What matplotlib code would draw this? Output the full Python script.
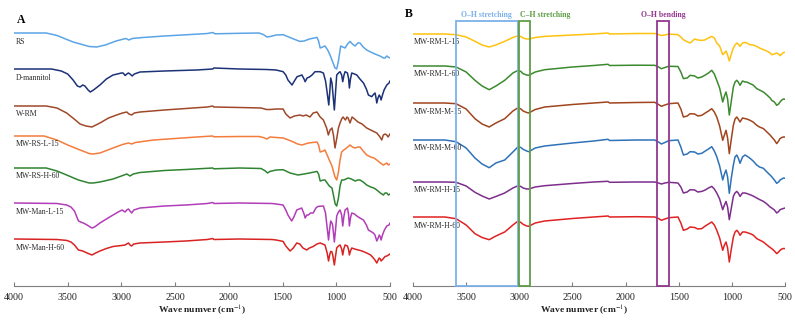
import matplotlib
matplotlib.use("Agg")
import matplotlib.pyplot as plt
from matplotlib.patches import Rectangle

plt.rcParams["font.family"] = ["Liberation Serif", "DejaVu Serif"]
plt.rcParams["mathtext.fontset"] = "stix"

# ---- data: (wavenumber cm-1, absorption depth in arbitrary units, downward) ----
rs = [(4000, 0), (3700, 0), (3600, 2.5), (3450, 9), (3300, 13.5), (3230, 14), (3150, 12), (3050, 8),
      (2960, 5.5), (2930, 7), (2900, 5.5), (2800, 4.5), (2600, 3), (2400, 1.8), (2200, 0.5), (2150, -0.5),
      (2130, 0.8), (1900, 0.3), (1720, 0), (1680, 1.5), (1645, 4), (1610, 3.4), (1560, 2), (1495, 1.7),
      (1420, 5), (1340, 8.4), (1300, 8), (1250, 6), (1180, 4.4), (1165, 8), (1150, 15), (1105, 13),
      (1080, 17), (1058, 22), (1030, 30), (1012, 35), (996, 36), (980, 28), (959, 13), (940, 14),
      (918, 15), (895, 11), (872, 8.4), (850, 11), (825, 13), (800, 10), (779, 10), (750, 14), (717, 17),
      (680, 19), (640, 21), (593, 23), (560, 25), (546, 25), (530, 23), (518, 24), (500, 25)]

d_mannitol = [(4000, 0), (3650, 0), (3560, 2), (3500, 5), (3450, 11), (3410, 17), (3385, 18), (3360, 16),
              (3340, 17), (3310, 21), (3290, 23), (3260, 21), (3200, 16), (3140, 10), (3078, 6), (3000, 4),
              (2985, 4), (2965, 6.5), (2950, 5), (2935, 4), (2920, 5), (2900, 7), (2880, 5), (2827, 3),
              (2600, 2), (2300, 1), (2150, 0), (2140, -1), (1900, 0), (1650, 0.5), (1560, 1), (1495, 2.7),
              (1470, 6), (1450, 11), (1412, 16), (1390, 12), (1365, 7.7), (1320, 6), (1300, 10), (1290, 12.7),
              (1272, 9), (1250, 8), (1226, 6), (1198, 2.7), (1150, 2.7), (1120, 4), (1100, 12), (1086, 22.7),
              (1070, 36), (1060, 22), (1052, 9), (1040, 14), (1033, 22.7), (1018, 41), (1008, 25), (996, 6),
              (980, 4), (965, 2.7), (950, 6), (940, 12.7), (928, 6), (918, 2.7), (896, 4), (885, 10),
              (878, 19), (868, 10), (856, 4), (830, 5), (809, 6), (780, 10), (747, 14), (720, 20), (701, 26),
              (670, 27.7), (650, 25), (639, 24), (630, 29), (623, 34), (612, 29), (600, 26), (590, 28),
              (583, 31), (570, 26), (555, 21), (530, 16), (509, 14), (500, 12)]

w_rm = [(4000, 0), (3700, 0), (3600, 2), (3510, 7), (3440, 13), (3385, 18), (3330, 20), (3275, 21), (3200, 17),
        (3120, 12), (3045, 9), (2990, 7), (2950, 6), (2930, 8), (2905, 9), (2880, 7), (2827, 6), (2600, 4),
        (2400, 2.5), (2200, 1), (2150, 0), (2140, 1), (1900, 1.5), (1700, 2), (1650, 3.5), (1617, 3.5),
        (1555, 3), (1495, 3), (1470, 8), (1430, 12), (1390, 10), (1337, 9), (1310, 10), (1280, 9), (1245, 11),
        (1215, 7), (1180, 6), (1150, 11), (1120, 14), (1090, 22), (1074, 29), (1058, 24), (1040, 22),
        (1025, 30), (1012, 42), (995, 32), (980, 22), (965, 17), (950, 13), (937, 11), (915, 14), (900, 11),
        (890, 12), (872, 17), (853, 11), (830, 13), (798, 16), (760, 18), (717, 22), (680, 24), (623, 27),
        (593, 31), (577, 34), (562, 29), (546, 28), (530, 29), (518, 31), (500, 28)]

mw_rs_l_15 = [(4000, 0), (3720, 0), (3600, 4), (3500, 9), (3385, 14), (3300, 17.5), (3265, 18), (3200, 17),
              (3078, 12), (2990, 8.5), (2935, 7), (2905, 8), (2870, 6.5), (2700, 4), (2500, 2.5), (2300, 1),
              (2150, 0), (2140, 0.8), (1900, 0.5), (1720, 0.5), (1680, 1.5), (1645, 3), (1617, 1), (1560, 1.5),
              (1495, 2), (1420, 5), (1360, 8), (1320, 9), (1260, 7), (1180, 6), (1165, 9), (1150, 16),
              (1120, 15), (1105, 14), (1085, 19), (1065, 24), (1040, 30), (1012, 41), (996, 44), (980, 36),
              (965, 24), (950, 16), (930, 14), (904, 12), (872, 9), (850, 11), (825, 12), (800, 11), (779, 11),
              (750, 15), (717, 19), (680, 21), (650, 22), (623, 24), (590, 27), (562, 29), (546, 28), (530, 27),
              (515, 29), (500, 28)]

mw_rs_h_60 = [(4000, 0), (3700, 0), (3600, 3), (3510, 7), (3400, 12), (3300, 15), (3265, 15), (3200, 14),
              (3078, 11), (3000, 8), (2950, 6), (2920, 8), (2890, 6), (2827, 4.5), (2600, 2.5), (2400, 1.5),
              (2150, 0), (2140, 0.8), (1900, 0), (1700, 0.5), (1660, 3), (1640, 5), (1617, 3.4), (1560, 2),
              (1495, 1.7), (1430, 5), (1356, 7), (1300, 6), (1250, 5), (1180, 3.4), (1165, 6), (1150, 13),
              (1120, 12), (1105, 12), (1085, 15), (1065, 18), (1040, 20), (1025, 28), (1010, 36), (996, 38),
              (980, 30), (965, 18), (950, 12), (930, 12), (890, 10), (860, 11), (825, 13), (800, 12), (779, 12),
              (750, 14), (717, 17), (680, 19), (650, 20), (623, 22), (590, 25), (562, 27), (546, 25), (530, 25),
              (515, 27), (500, 26)]

mw_man_l_15 = [(4000, 0), (3600, 0.5), (3510, 2), (3470, 4), (3437, 8), (3415, 14), (3400, 18), (3380, 19),
               (3355, 20), (3320, 22), (3290, 24), (3275, 25), (3250, 24), (3200, 20), (3140, 16), (3078, 12),
               (3030, 9), (2994, 7), (2980, 8), (2966, 9), (2950, 7), (2935, 6), (2920, 8), (2905, 10),
               (2885, 7), (2827, 5), (2600, 3), (2400, 2), (2200, 0.5), (2150, -0.5), (2140, 0.5), (1900, 0),
               (1600, 0.5), (1560, 1), (1495, 2), (1470, 7), (1450, 12), (1415, 18), (1395, 14), (1368, 7),
               (1322, 5), (1300, 11), (1290, 15), (1275, 12), (1260, 12), (1240, 10), (1215, 10), (1190, 5),
               (1170, 3.4), (1120, 3), (1100, 10), (1090, 20), (1072, 37), (1062, 26), (1052, 18), (1040, 20),
               (1033, 23), (1018, 39), (1008, 28), (996, 13), (980, 9), (965, 7), (950, 12), (940, 23),
               (930, 14), (918, 7), (896, 5), (885, 12), (878, 23), (868, 15), (856, 10), (830, 11), (809, 13),
               (780, 15), (747, 17), (720, 22), (701, 27), (670, 29), (655, 30), (640, 32), (623, 38), (610, 35),
               (600, 32), (590, 34), (583, 37), (570, 32), (552, 27), (530, 23), (509, 22), (500, 20)]

mw_man_h_60 = [(4000, 0), (3600, 0.5), (3510, 1.4), (3470, 3), (3437, 6), (3415, 9), (3400, 11), (3360, 12),
               (3320, 14), (3275, 16), (3240, 14), (3200, 12), (3140, 9.5), (3078, 7.5), (3000, 6.5), (2966, 6),
               (2950, 5), (2935, 4), (2920, 6), (2905, 7), (2885, 5), (2827, 4), (2600, 3), (2400, 2),
               (2200, 0.5), (2150, -0.5), (2140, 0.5), (1900, 0), (1600, 0.5), (1560, 1), (1495, 2.4), (1470, 7),
               (1430, 12), (1400, 9), (1368, 4), (1340, 5), (1310, 9), (1275, 11), (1250, 9), (1215, 7.5),
               (1180, 5), (1150, 4), (1105, 6), (1085, 14), (1072, 22), (1062, 16), (1052, 12.4), (1040, 13),
               (1033, 16), (1018, 26), (1008, 18), (996, 9), (980, 7), (965, 6), (950, 10), (940, 16), (930, 10),
               (918, 6), (896, 7), (885, 11), (878, 16), (868, 12), (856, 9), (830, 10), (794, 11), (760, 12),
               (717, 14), (680, 16), (655, 19), (640, 21), (623, 24), (610, 21), (600, 19), (590, 20), (583, 22),
               (565, 20), (546, 17.5), (530, 17), (514, 16), (500, 15)]

mw_rm_l_15 = [(4000, 0), (3700, 0), (3595, 0.7), (3500, 3), (3417, 7.3), (3350, 11), (3283, 13), (3220, 11),
              (3137, 7.3), (3060, 3.5), (3011, 1.7), (2985, 2.5), (2964, 4), (2930, 5), (2911, 5), (2850, 3.5),
              (2761, 2.4), (2500, 1), (2300, 0), (2165, -1), (2150, 0), (1900, -0.5), (1726, -0.5), (1690, 0.5),
              (1663, 1.5), (1630, 1), (1594, 0), (1507, 0.7), (1480, 3), (1456, 5.7), (1429, 7.3), (1393, 9),
              (1350, 5), (1320, 6), (1283, 6.4), (1256, 6), (1220, 4), (1189, 2.4), (1165, 4), (1142, 9),
              (1115, 12), (1086, 20.7), (1070, 19), (1055, 17), (1040, 21), (1024, 27), (1005, 20), (986, 14),
              (970, 11), (954, 9), (940, 10), (923, 12.4), (900, 9), (876, 8.4), (860, 9), (829, 10.7), (800, 11),
              (766, 12.4), (740, 14), (703, 15.7), (670, 17), (640, 19), (625, 20.7), (600, 20), (578, 19),
              (560, 20), (547, 21.7), (530, 20), (515, 18.5), (500, 18.4)]

mw_rm_l_60 = [(4000, 0), (3700, 0), (3595, 1), (3500, 6), (3417, 14.3), (3350, 20), (3283, 23.7), (3220, 20),
              (3137, 14.3), (3060, 7), (3011, 4.3), (2985, 5.5), (2964, 7.7), (2930, 9), (2911, 9.3), (2850, 6),
              (2761, 3.7), (2500, 1), (2300, -0.5), (2165, -1.7), (2150, -0.5), (1900, -0.8), (1726, -0.7),
              (1690, 1), (1663, 2.7), (1630, 1.5), (1594, 0.3), (1507, 0.5), (1480, 6), (1456, 12.6), (1420, 12),
              (1393, 9.3), (1350, 10), (1320, 12), (1283, 11), (1250, 9), (1220, 7), (1189, 4.3), (1165, 8),
              (1142, 14.3), (1115, 22), (1086, 36), (1070, 30), (1055, 26), (1040, 33), (1024, 49), (1005, 35),
              (986, 21), (970, 16), (954, 14.3), (940, 16), (923, 19.3), (900, 15), (876, 16), (860, 16),
              (829, 17.6), (800, 19), (766, 22.6), (740, 24), (703, 26), (670, 29), (640, 32), (625, 34.3),
              (600, 36), (578, 39.3), (560, 38), (547, 36), (530, 34), (515, 33), (500, 33.3)]

mw_rm_m_15 = [(4000, 0), (3700, 0), (3595, 0.7), (3500, 6), (3417, 15.7), (3350, 21), (3283, 24), (3220, 20),
              (3137, 15.7), (3060, 8), (3011, 4.7), (2985, 6), (2964, 8), (2930, 9.5), (2911, 10), (2850, 6.5),
              (2761, 4), (2500, 1.5), (2300, 0), (2165, -1), (2150, 0), (1900, -0.5), (1726, -0.7), (1690, 1.5),
              (1663, 3.3), (1630, 2), (1594, 0.7), (1507, 0), (1480, 6), (1456, 14), (1420, 13), (1393, 10.7),
              (1350, 11), (1320, 13), (1283, 12.3), (1250, 10), (1220, 8), (1189, 5.7), (1165, 9), (1142, 14),
              (1115, 23), (1086, 37.3), (1070, 32), (1055, 27.3), (1040, 35), (1024, 50.6), (1005, 36),
              (986, 22.3), (970, 16), (954, 14), (940, 16), (923, 19), (900, 15), (876, 15.6), (860, 16),
              (829, 17.3), (800, 19), (766, 22.3), (740, 24), (703, 25.6), (670, 29), (640, 32), (625, 34),
              (600, 37), (578, 40.6), (560, 38), (547, 35.6), (530, 34.5), (515, 34), (500, 34)]

mw_rm_m_60 = [(4000, 0), (3700, 0), (3595, 1.7), (3500, 8), (3417, 18), (3350, 24), (3283, 27.7), (3220, 23),
              (3137, 20), (3060, 12), (3011, 6.7), (2985, 7.5), (2964, 9.3), (2930, 11), (2911, 11.7), (2850, 8),
              (2761, 6), (2500, 3), (2300, 1), (2165, -0.7), (2150, 0.5), (1900, 0), (1726, 0), (1690, 2),
              (1663, 4), (1630, 2.5), (1594, 0.7), (1507, 0), (1480, 7), (1456, 15), (1420, 14), (1393, 11.7),
              (1350, 12), (1320, 14), (1283, 13.3), (1250, 11), (1220, 9), (1189, 6.7), (1165, 11), (1142, 16.7),
              (1115, 26), (1086, 40), (1070, 34), (1055, 30), (1040, 37), (1024, 53.3), (1005, 38), (986, 25),
              (970, 17), (954, 15), (940, 18), (923, 23.3), (900, 17), (876, 15), (860, 16), (829, 18.3),
              (800, 21), (766, 25), (740, 27), (703, 28.3), (670, 32), (640, 35), (625, 36.7), (600, 40),
              (578, 43.3), (560, 42), (547, 40), (530, 39), (515, 38), (500, 38.3)]

mw_rm_h_15 = [(4000, 0), (3700, 0), (3595, 0.3), (3500, 4), (3417, 10.3), (3350, 14), (3283, 17), (3220, 14.5),
              (3137, 11), (3060, 6), (3011, 3.7), (2985, 4.5), (2964, 6), (2930, 7), (2911, 7), (2850, 5),
              (2761, 3.7), (2500, 1.5), (2300, 0), (2165, -0.7), (2150, 0.3), (1900, 0), (1726, 0), (1690, 1),
              (1663, 2), (1630, 1), (1594, 0.3), (1507, 1), (1480, 5), (1456, 11), (1420, 10), (1393, 7.7),
              (1350, 8), (1320, 10), (1283, 9.4), (1250, 8), (1220, 6), (1189, 4.4), (1165, 7), (1142, 11),
              (1115, 17), (1086, 27.7), (1070, 23), (1055, 19.4), (1040, 25), (1024, 37.7), (1005, 26),
              (986, 14.4), (970, 11), (954, 9.4), (940, 11), (923, 14.4), (900, 11), (876, 11), (860, 11.5),
              (829, 12.7), (800, 14), (766, 16), (740, 17.5), (703, 19.4), (670, 22), (640, 25), (625, 26),
              (600, 28), (578, 31), (560, 29.5), (547, 27.7), (530, 27), (515, 26.5), (500, 26)]

mw_rm_h_60 = [(4000, 0), (3700, 0), (3595, 1.7), (3500, 8), (3417, 16.7), (3350, 20.5), (3283, 22.7), (3220, 19),
              (3137, 15), (3060, 8), (3011, 4), (2985, 5.5), (2964, 7.3), (2930, 9), (2911, 9.3), (2850, 6),
              (2761, 4), (2500, 1.5), (2300, 0), (2165, -1), (2150, 0), (1900, -0.3), (1726, 0), (1690, 1.5),
              (1663, 3.3), (1630, 2), (1594, 0.7), (1507, 0), (1480, 6), (1456, 13.3), (1420, 12), (1393, 10),
              (1350, 10.5), (1320, 12), (1283, 11.6), (1250, 9), (1220, 7), (1189, 5), (1165, 8), (1142, 13.3),
              (1115, 21), (1086, 33.3), (1070, 28), (1055, 25), (1040, 31), (1024, 45), (1005, 32), (986, 20),
              (970, 15), (954, 13.3), (940, 15), (923, 18.3), (900, 15), (876, 15), (860, 15.5), (829, 16.6),
              (800, 18), (766, 21.6), (740, 23), (703, 25), (670, 28), (640, 30.5), (625, 31.6), (600, 34),
              (578, 36.6), (560, 35), (547, 33.3), (530, 32), (515, 31.5), (500, 31.6)]

a_names = ["RS", "D-mannitol", "W-RM", "MW-RS-L-15", "MW-RS-H-60", "MW-Man-L-15", "MW-Man-H-60"]
a_series = [rs, d_mannitol, w_rm, mw_rs_l_15, mw_rs_h_60, mw_man_l_15, mw_man_h_60]
a_colors = ["#5BA4E6", "#1C3277", "#A0492A", "#F47C3C", "#2F8432", "#B23DB8", "#D92323"]
a_offsets = [33, 69, 106, 136, 168, 203, 239]

b_names = ["MW-RM-L-15", "MW-RM-L-60", "MW-RM-M-15", "MW-RM-M-60", "MW-RM-H-15", "MW-RM-H-60"]
b_series = [mw_rm_l_15, mw_rm_l_60, mw_rm_m_15, mw_rm_m_60, mw_rm_h_15, mw_rm_h_60]
b_colors = ["#FFC20E", "#3C8A2E", "#A0451E", "#2E72B8", "#7D2E8C", "#E02222"]
b_offsets = [34, 66, 103, 140, 182, 217]

# band boxes in panel B: (label, left wn, right wn, colour, label alignment)
bands = [("O–H stretching", 3600, 3012, "#7CB2E8", "center"),
         ("C–H stretching", 3005, 2895, "#5E9E45", "left"),
         ("O–H bending", 1700, 1590, "#93378F", "center")]

W, H = 795, 322
AX_BOTTOM = 286  # pixel row of the x axis line


def setup_axis(ax):
    ax.set_xlim(4000, 500)
    ax.set_ylim(AX_BOTTOM, 0)
    for s in ("left", "right", "top"):
        ax.spines[s].set_visible(False)
    ax.spines["bottom"].set_color("#7f7f7f")
    ax.spines["bottom"].set_linewidth(0.8)
    ax.set_yticks([])
    ax.set_xticks(range(4000, 499, -500))
    ax.tick_params(axis="x", direction="in", length=3, width=0.8, color="#7f7f7f",
                   labelsize=7.2, pad=5, labelcolor="#222222")


def draw_panel(ax, names, series, colors, offsets, label_x):
    for name, data, color, off in zip(names, series, colors, offsets):
        wn = [p[0] for p in data]
        val = [off + p[1] for p in data]
        ax.plot(wn, val, color=color, lw=1.1, solid_joinstyle="round")
        ax.text(label_x, off + 8.5, name, fontsize=5.6, ha="left", va="center", color="#2a2a2a")


fig = plt.figure(figsize=(W / 100, H / 100), dpi=100)
fig.patch.set_facecolor("white")

ax_a = fig.add_axes([14 / W, (H - AX_BOTTOM) / H, 376 / W, AX_BOTTOM / H])
ax_b = fig.add_axes([413 / W, (H - AX_BOTTOM) / H, 372 / W, AX_BOTTOM / H])

for ax in (ax_a, ax_b):
    setup_axis(ax)

draw_panel(ax_a, a_names, a_series, a_colors, a_offsets, 3985)
draw_panel(ax_b, b_names, b_series, b_colors, b_offsets, 3988)

# band boxes
for label, left, right, color, align in bands:
    ax_b.add_patch(Rectangle((left, 21), right - left, AX_BOTTOM - 21, fill=False,
                             edgecolor=color, lw=1.3, zorder=5, clip_on=False))
    tx = (left + right) / 2 if align == "center" else left - 10
    ax_b.text(tx, 15, label, fontsize=5.6, fontweight="bold", color=color,
              ha=align, va="center")

xl = "Wave numver (cm$^{-1}$)"
ax_a.text(0.5, -(310 - AX_BOTTOM) / AX_BOTTOM, xl, transform=ax_a.transAxes, fontsize=6.8,
          fontweight="bold", ha="center", va="center", color="#222222")
ax_b.text((584 - 413) / 372, -(310 - AX_BOTTOM) / AX_BOTTOM, xl, transform=ax_b.transAxes, fontsize=6.8,
          fontweight="bold", ha="center", va="center", color="#222222")

fig.text(17 / W, 1 - 20 / H, "A", fontsize=8.5, fontweight="bold", ha="left", va="center")
fig.text(405 / W, 1 - 14 / H, "B", fontsize=8.5, fontweight="bold", ha="left", va="center")

fig.savefig("out.png", dpi=100, facecolor="white")
